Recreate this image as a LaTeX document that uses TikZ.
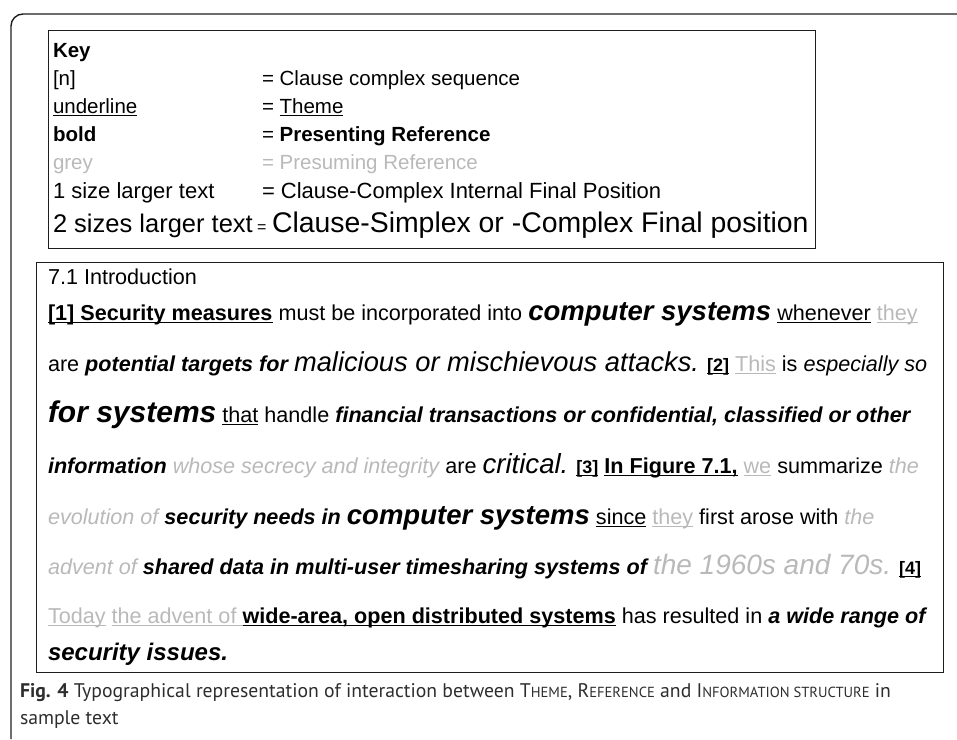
\documentclass[tikz,border=0pt]{standalone}
\usepackage{fontspec}
\setmainfont{Liberation Sans}
\newfontfamily\capfont{PT Sans}
\definecolor{lg}{RGB}{185,185,185}
\definecolor{capc}{RGB}{45,45,45}
\definecolor{framec}{RGB}{30,30,30}
\newcommand{\fs}[1]{\fontsize{#1}{#1}\selectfont}
\newsavebox{\ulbox}
\newcommand{\myul}[1]{\sbox\ulbox{#1}\rlap{\rule[-3pt]{\wd\ulbox}{1.5pt}}\usebox\ulbox}
\newcommand{\bi}{\bfseries\itshape}
\newcommand{\gi}{\color{lg}\itshape}
\newcommand{\smc}[2]{#1{\fs{14.6}#2}}
\begin{document}
\begin{tikzpicture}[x=1pt,y=-1pt,
  txt/.style={inner sep=0pt,outer sep=0pt,anchor=base west,font=\fs{20.5}},
  body/.style={txt,font=\fs{21.6}},
  frame/.style={draw=framec,line width=1.4pt},
  boxstyle/.style={frame,inner sep=0pt,anchor=north west,fill=none}]
\useasboundingbox (0,0) rectangle (957,739);
\draw[frame,rounded corners=12pt] (957,14) -- (11,14) -- (11,739);
% key box
\node[boxstyle,minimum width=767pt,minimum height=218pt] (keybox) at (48,30) {};
\node[txt,font=\fs{20.5}\bfseries] (k0) at (53,57) {Key};
\node[txt] (k1a) at (53,85) {[n]};
\node[txt] (k1b) at (262,85) {= Clause complex sequence};
\node[txt] (k2a) at (53,113) {\myul{underline}};
\node[txt] (k2b) at (262,113) {= \myul{Theme}};
\node[txt,font=\fs{20.5}\bfseries] (k3a) at (53,141) {bold};
\node[txt] (k3b) at (262,141) {= \textbf{Presenting Reference}};
\node[txt,text=lg] (k4a) at (53,169) {grey};
\node[txt,text=lg] (k4b) at (262,169) {= Presuming Reference};
\node[txt,font=\fs{22}] (k5a) at (53,198) {1 size larger text};
\node[txt,font=\fs{22}] (k5b) at (262,198) {= Clause-Complex Internal Final Position};
\node[txt,font=\fs{25.5}] (k6a) at (53,232) {2 sizes larger text};
\node[txt,font=\fs{16}] (k6e) at (257,232) {=};
\node[txt,font=\fs{28.4}] (k6b) at (272,232) {Clause-Simplex or -Complex Final position};
% text box
\node[boxstyle,minimum width=907pt,minimum height=410pt] (tbox) at (36,262) {};
\node[body] (h) at (48,284) {7.1 Introduction};
\node[body] (l1) at (48,320) {\myul{\textbf{[1] Security measures}} must be incorporated into {\fs{27.5}\bi computer systems} \myul{whenever} {\color{lg}\myul{they}}};
\node[body] (l2) at (48,371) {are {\bi potential targets for} {\fs{27.3}\itshape malicious or mischievous attacks.} {\fs{18}\myul{\textbf{[2]}}} {\color{lg}\myul{This}} is {\itshape especially so}};
\node[body] (l3) at (48,422) {{\fs{30}\bi for systems} \myul{that} handle {\bi financial transactions or confidential, classified or other}};
\node[body] (l4) at (48,473) {{\bi information} {\gi whose secrecy and integrity} are {\fs{27.6}\itshape critical.} {\fs{18}\myul{\textbf{[3]}}} \myul{\textbf{In Figure 7.1,}} {\color{lg}\myul{we}} summarize {\gi the}};
\node[body] (l5) at (48,524) {{\gi evolution of} {\bi security needs in} {\fs{27.5}\bi computer systems} \myul{since} {\color{lg}\myul{they}} first arose with {\gi the}};
\node[body] (l6) at (48,574) {{\gi advent of} {\bi shared data in multi-user timesharing systems of} {\fs{28}\gi the 1960s and 70s.} {\fs{18}\myul{\textbf{[4]}}}};
\node[body] (l7) at (48,623) {{\color{lg}\myul{Today}} {\color{lg}\myul{the advent of }}\myul{\textbf{wide-area, open distributed systems}} has resulted in {\bi a wide range of}};
\node[txt,font=\fs{24}\bfseries\itshape] (l8) at (48,660) {security issues.};
% caption
\node[txt,font=\capfont\fs{19.7},text=capc] (c1) at (20,697) {\textbf{Fig. 4} Typographical representation of interaction between \smc{T}{HEME}, \smc{R}{EFERENCE} and \smc{I}{NFORMATION STRUCTURE} in};
\node[txt,font=\capfont\fs{19.7},text=capc] (c2) at (20,724) {sample text};
\end{tikzpicture}
\end{document}
